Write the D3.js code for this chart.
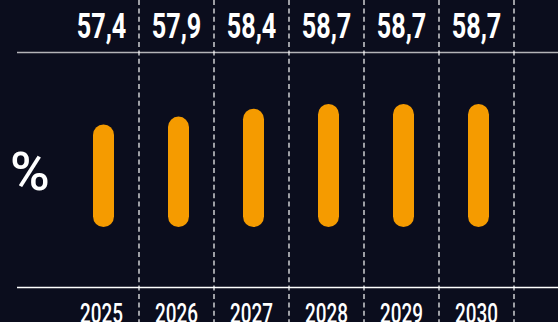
<!DOCTYPE html>
<html>
<head>
<meta charset="utf-8">
<script src="https://cdn.jsdelivr.net/npm/d3@7"></script>
<style>
  html, body { margin: 0; padding: 0; background: #0b0d1d; }
  svg { display: block; }
</style>
</head>
<body>
<svg id="chart" width="558" height="322"></svg>
<script>
// Share (%) per year
const years = ["2025", "2026", "2027", "2028", "2029", "2030"];
const values = [57.4, 57.9, 58.4, 58.7, 58.7, 58.7];
const valueLabels = ["57,4", "57,9", "58,4", "58,7", "58,7", "58,7"];

const W = 558, H = 322;
const svg = d3.select("#chart");

svg.append("rect").attr("width", W).attr("height", H).attr("fill", "#0b0d1d");

const x = d3.scaleBand().domain(years).range([64, 514]).paddingInner(0).paddingOuter(0);
const y = d3.scaleLinear().domain([50.9, 58.7]).range([227, 104]);

// Horizontal rules
svg.append("line")
  .attr("x1", 17).attr("x2", W).attr("y1", 52.5).attr("y2", 52.5)
  .attr("stroke", "#b4b4b8").attr("stroke-width", 1.3);
svg.append("line")
  .attr("x1", 17).attr("x2", W).attr("y1", 287.5).attr("y2", 287.5)
  .attr("stroke", "#ffffff").attr("stroke-width", 1.3);

// Dashed separators on the right edge of each column
svg.append("g").selectAll("line")
  .data(years)
  .join("line")
  .attr("x1", d => x(d) + x.bandwidth())
  .attr("x2", d => x(d) + x.bandwidth())
  .attr("y1", 0).attr("y2", H)
  .attr("stroke", "#ffffff")
  .attr("stroke-width", 1.2)
  .attr("stroke-dasharray", "5,3.4");

// Pill-shaped bars
const barW = 21;
svg.append("g").selectAll("rect")
  .data(years.map((yr, i) => ({ yr, v: values[i] })))
  .join("rect")
  .attr("x", d => x(d.yr) + x.bandwidth() / 2 + 2 - barW / 2)
  .attr("width", barW)
  .attr("y", d => y(d.v))
  .attr("height", d => y.range()[0] - y(d.v))
  .attr("rx", barW / 2)
  .attr("fill", "#f59b00");

// Value labels above the top rule
svg.append("g").selectAll("text")
  .data(years.map((yr, i) => ({ yr, t: valueLabels[i] })))
  .join("text")
  .attr("transform", d => `translate(${x(d.yr) + x.bandwidth() / 2},38) scale(0.72,1)`)
  .attr("text-anchor", "middle")
  .attr("font-family", "Roboto, 'Noto Sans', sans-serif")
  .attr("font-weight", 700)
  .attr("font-size", 35)
  .attr("fill", "#ffffff")
  .text(d => d.t);

// Year labels under the bottom rule
svg.append("g").selectAll("text")
  .data(years)
  .join("text")
  .attr("transform", d => `translate(${x(d) + x.bandwidth() / 2},323) scale(0.7,1)`)
  .attr("text-anchor", "middle")
  .attr("font-family", "Roboto, 'Noto Sans', sans-serif")
  .attr("font-weight", 500)
  .attr("font-size", 27)
  .attr("fill", "#ffffff")
  .text(d => d);

// Unit
svg.append("text")
  .attr("x", 30).attr("y", 190)
  .attr("text-anchor", "middle")
  .attr("font-family", "Roboto, 'Noto Sans', sans-serif")
  .attr("font-weight", 500)
  .attr("font-size", 54)
  .attr("fill", "#ffffff")
  .text("%");
</script>
</body>
</html>
